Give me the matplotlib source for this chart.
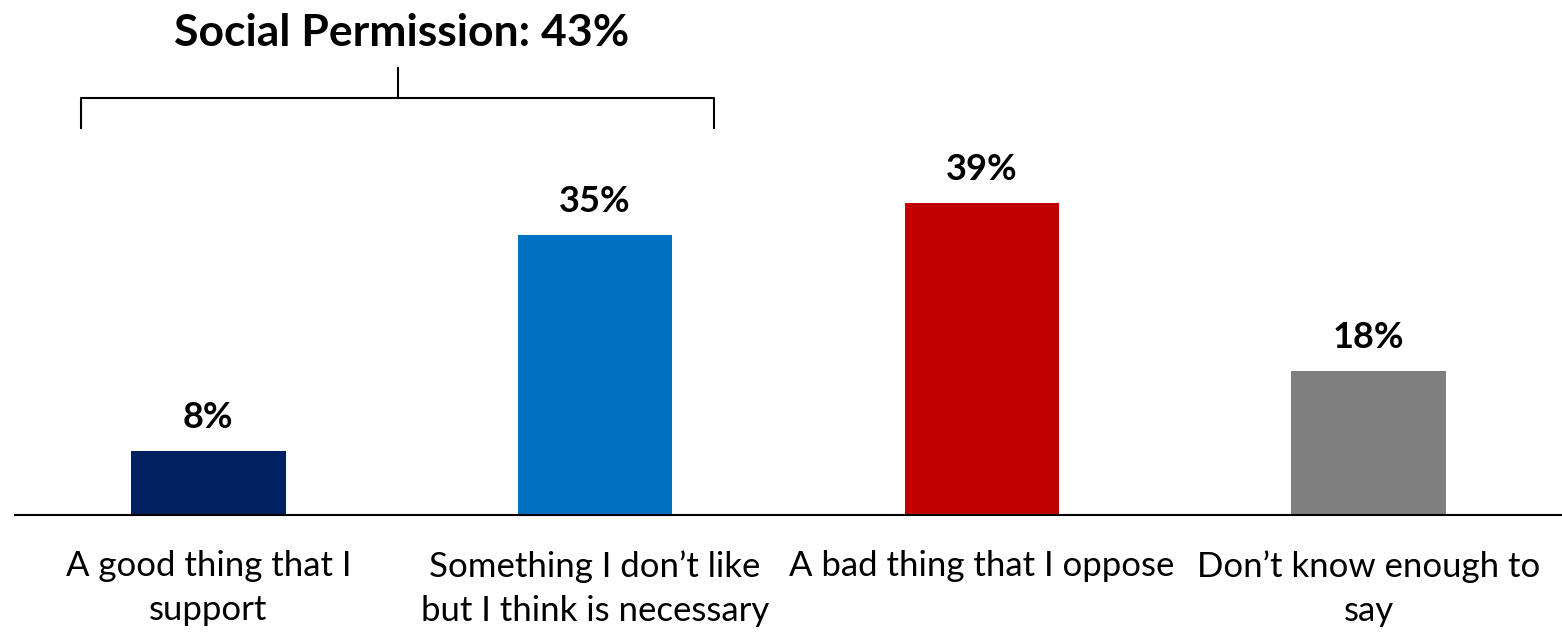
import matplotlib
matplotlib.use("Agg")
import matplotlib.pyplot as plt

categories = ["A good thing that I\nsupport", "Something I don\u2019t like\nbut I think is necessary",
              "A bad thing that I oppose", "Don\u2019t know enough to\nsay"]
values = [8, 35, 39, 18]
labels = ["8%", "35%", "39%", "18%"]
colors = ["#002060", "#0070C0", "#C00000", "#7F7F7F"]
title_text = "Social Permission: 43%"

plt.rcParams['font.family'] = ['Lato', 'DejaVu Sans']

W, H = 1562, 635
BASE = 515
YMAX = 64.4
fig = plt.figure(figsize=(W / 100, H / 100), dpi=100)
ax = fig.add_axes([15 / W, 1 - BASE / H, 1547 / W, BASE / H])


def py(p):
    return (BASE - p) / BASE * YMAX


x = list(range(len(categories)))
ax.bar(x, values, width=0.4, color=colors)
ax.set_xlim(-0.5, 3.5)
ax.set_ylim(0, YMAX)
for xi, v, l in zip(x, values, labels):
    ax.text(xi, v + 4.15, l, ha='center', va='center', fontsize=26, fontweight='bold')
ax.set_xticks(x)
ax.set_xticklabels(categories, fontsize=25, linespacing=1.45, va='top')
ax.tick_params(axis='x', length=0, pad=25.5)
ax.set_yticks([])
for s in ['left', 'right', 'top']:
    ax.spines[s].set_visible(False)
ax.spines['bottom'].set_linewidth(1.5)
ax.spines['bottom'].set_color('black')

# bracket
bx0, bx1, bc = -0.329, 1.307, 0.49
ax.plot([bx0, bx0, bx1, bx1], [py(128), py(98), py(98), py(128)], color='black', lw=1.5, clip_on=False)
ax.plot([bc, bc], [py(98), py(68)], color='black', lw=1.5, clip_on=False)
ax.text(0.50, py(33), title_text, ha='center', va='center', fontsize=32, fontweight='bold', clip_on=False)

fig.savefig("out.png", dpi=100)
